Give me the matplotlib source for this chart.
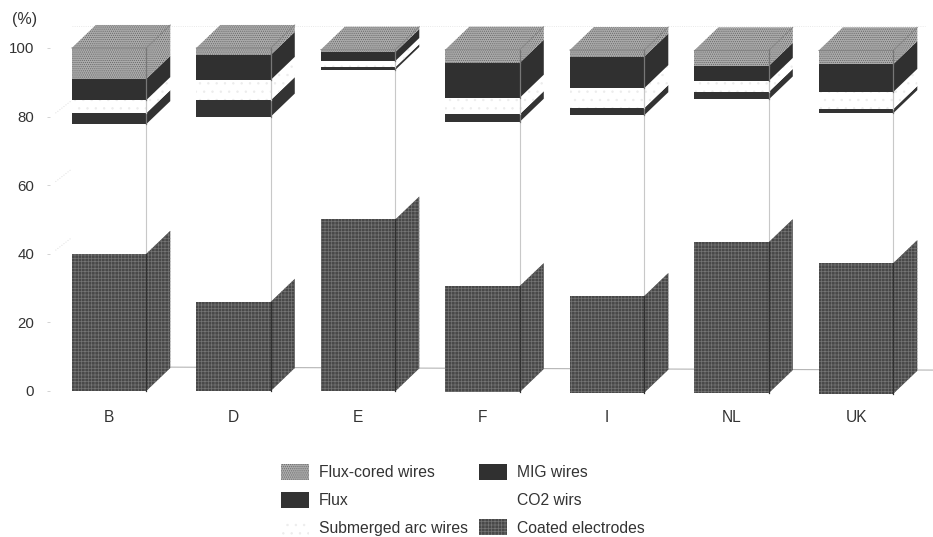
import numpy as np
import matplotlib.pyplot as plt
from matplotlib.patches import Patch, Polygon

plt.rcParams["font.family"] = ["Liberation Sans", "DejaVu Sans"]
plt.rcParams["hatch.linewidth"] = 0.5

countries = ["B", "D", "E", "F", "I", "NL", "UK"]

coated = [40, 26, 50, 30.6, 27.7, 43.4, 37.3]
co2 = [37.8, 54, 43.6, 47.9, 52.7, 41.6, 43.7]
flux = [3.2, 4.8, 0.8, 2.2, 2.1, 2.2, 1.2]
submerged = [3.8, 5.9, 1.8, 4.8, 5.8, 3.2, 5]
mig = [6.2, 7.3, 2.6, 10.2, 9.2, 4.4, 8.1]
flux_cored = [9, 2, 0.7, 3.8, 1.9, 4.5, 4]

# the scanned page is slightly tilted, bars sit a bit lower to the right
baseline = [0, 0, -0.1, -0.3, -0.5, -0.6, -0.8]
floor_y = [7, 6.1]

W, H = 933, 537
bar_w = 74.5 / 124.5
depth_x = 24 / 124.5
depth_y = 23 / 3.43

styles = {
    "coated": dict(facecolor="#484848", edgecolor="#747474", hatch="+++++"),
    "co2": dict(facecolor="white", edgecolor="white"),
    "flux": dict(facecolor="#333333", edgecolor="#333333"),
    "submerged": dict(facecolor="white", edgecolor="#ececec", hatch=".."),
    "mig": dict(facecolor="#303030", edgecolor="#303030"),
    "flux_cored": dict(facecolor="#ababab", edgecolor="#666666", hatch="........"),
}
order = ["coated", "co2", "flux", "submerged", "mig", "flux_cored"]
series = dict(zip(order, [coated, co2, flux, submerged, mig, flux_cored]))

fig = plt.figure(figsize=(W / 100, H / 100), dpi=100)
ax = fig.add_axes([50 / W, 1 - 391 / H, (933 - 50) / W, (391 - 25) / H])
ax.set_xlim(-0.474, 6.618)
ax.set_ylim(0, 106.7)
for s in ax.spines.values():
    s.set_visible(False)

ax.set_yticks([0, 20, 40, 60, 80, 100])
ax.set_xticks(range(len(countries)))
ax.set_xticklabels(countries)
ax.tick_params(axis="y", length=2.5, width=0.6, color="#cccccc", pad=9,
               labelsize=10.8, labelcolor="#333333")
ax.tick_params(axis="x", length=0, pad=14, labelsize=11.2, labelcolor="#333333")
ax.annotate("(%)", xy=(0, 100), xycoords=("axes fraction", "data"), xytext=(-38, 24),
            textcoords="offset pixels", fontsize=11.5, color="#333333")

# floor line and what is left of the wall grid
ax.plot([0.19, 6.618], floor_y, color="#b5b5b5", lw=0.8, zorder=1)
ax.plot([-0.3, 6.55], [106.5, 106.5], color="#e2e2e2", lw=0.6, ls=":", zorder=1)
ax.plot([-0.3, 6.55], [0, 0], color="#e2e2e2", lw=0.6, ls=":", zorder=1)
for t in [40, 60, 80]:
    ax.plot([-0.43, -0.3], [t + 1, t + depth_y - 2], color="#dddddd", lw=0.7, ls=":", zorder=1)


def block(x, y0, y1, key, top=False):
    st = styles[key]
    left, right = x - bar_w / 2, x + bar_w / 2
    ax.bar(x, y1 - y0, bar_w, bottom=y0, linewidth=0, zorder=3, clip_on=False, **st)
    side = [(right, y0), (right + depth_x, y0 + depth_y),
            (right + depth_x, y1 + depth_y), (right, y1)]
    ax.add_patch(Polygon(side, closed=True, linewidth=0, zorder=3, clip_on=False, **st))
    if top:
        lid = [(left, y1), (right, y1), (right + depth_x, y1 + depth_y),
               (left + depth_x, y1 + depth_y)]
        ax.add_patch(Polygon(lid, closed=True, linewidth=0, zorder=3, clip_on=False, **st))
        ax.plot([left, right, right + depth_x], [y1, y1, y1 + depth_y], color="#808080",
                lw=0.6, zorder=4, clip_on=False)
    edge = {"coated": "#303030", "submerged": "#c8c8c8"}.get(key, "#777777")
    ax.plot([right, right], [y0, y1], color=edge, lw=0.9, zorder=4, clip_on=False)


for i in range(len(countries)):
    y = 0
    for key in order:
        h = series[key][i]
        y0 = baseline[i] if key == "coated" else y
        if key == "co2":
            # the white part only shows its front edge
            ax.plot([i + bar_w / 2] * 2, [y, y + h], color="#c8c8c8", lw=0.8, zorder=2)
        else:
            block(i, y0, y + h, key, top=key == "flux_cored")
        y += h

labels = {
    "flux_cored": "Flux-cored wires", "flux": "Flux", "submerged": "Submerged arc wires",
    "mig": "MIG wires", "co2": "CO2 wirs", "coated": "Coated electrodes",
}
legend_order = ["flux_cored", "flux", "submerged", "mig", "co2", "coated"]
handles = [Patch(label=labels[k], linewidth=0, **styles[k]) for k in legend_order]
ax.legend(handles=handles, ncol=2, frameon=False, fontsize=11.3, labelcolor="#333333",
          loc="upper left", bbox_to_anchor=(281 / W, 1 - 464 / H), bbox_transform=fig.transFigure,
          borderaxespad=0, borderpad=0, handlelength=1.78, handleheight=1.2,
          handletextpad=0.62, columnspacing=0.75, labelspacing=0.72)

fig.savefig("out.png", dpi=100)
